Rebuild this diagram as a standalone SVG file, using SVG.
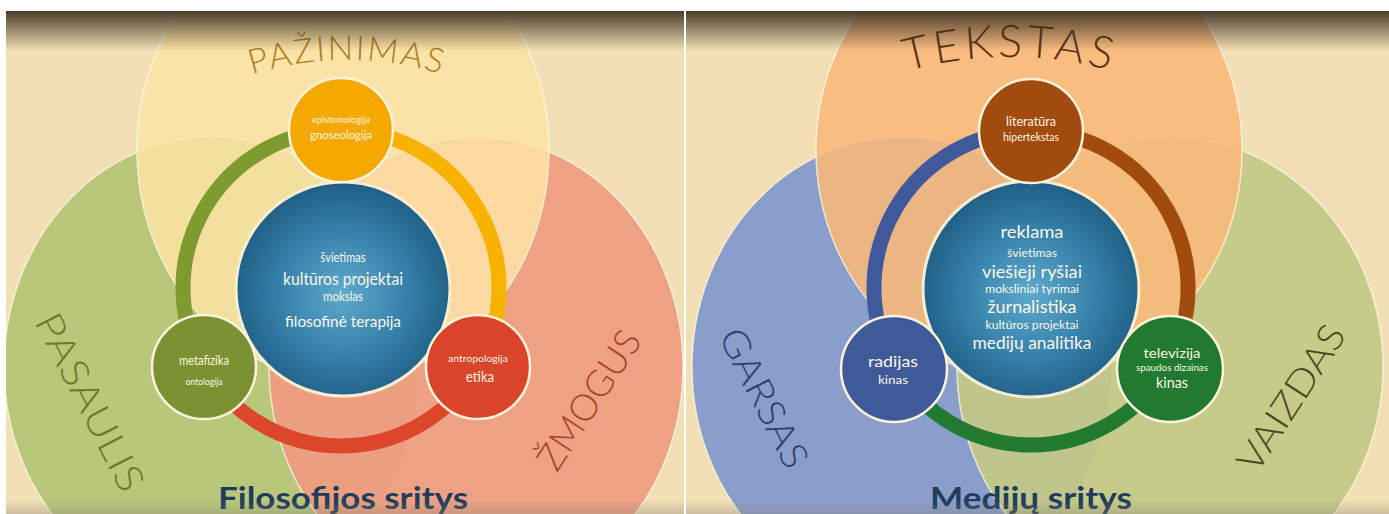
<svg xmlns="http://www.w3.org/2000/svg" width="1389" height="514" viewBox="0 0 1389 514">
<defs>
  <clipPath id="clipL"><rect x="6" y="11" width="678" height="503"/></clipPath>
  <clipPath id="clipR"><rect x="686" y="11" width="703" height="503"/></clipPath>
  <radialGradient id="coreGrad" cx="50%" cy="52%" r="55%">
    <stop offset="0" stop-color="#5eaacc"/>
    <stop offset="0.55" stop-color="#3580aa"/>
    <stop offset="1" stop-color="#1d5a7f"/>
  </radialGradient>
  <linearGradient id="topShade" x1="0" y1="0" x2="0" y2="1">
    <stop offset="0" stop-color="#3b2e21" stop-opacity="0.92"/>
    <stop offset="1" stop-color="#3b2e21" stop-opacity="0"/>
  </linearGradient>
  <linearGradient id="botShade" x1="0" y1="0" x2="0" y2="1">
    <stop offset="0" stop-color="#8a8478" stop-opacity="0"/>
    <stop offset="1" stop-color="#8a8478" stop-opacity="0.35"/>
  </linearGradient>
  <path id="arcL" d="M 27,380 A 320 320 0 0 1 667,380"/>
  <path id="arcR" d="M 630,437 A 380 380 0 0 1 1390,437"/>
  <style>
    .bg { fill: #f2dfb5; }
    .venn { stroke: #fff8e6; stroke-opacity: 0.75; stroke-width: 1.5; }
    .ring { fill: none; stroke-width: 15; }
    .node { stroke: #fbf3dc; stroke-width: 2.5; }
    .core { fill: url(#coreGrad); stroke: #f6eed4; stroke-width: 3; }
    .t { font-family: Lato, "Open Sans", "Liberation Sans", sans-serif; text-anchor: middle; fill: #fbf6e6; }
    .big { font-family: Lato, "Liberation Sans", sans-serif; font-weight: 300; text-anchor: middle; }
    .title { font-family: Lato, "Liberation Sans", sans-serif; font-weight: 700; fill: #1f3d5b; text-anchor: middle; font-size: 31px; }
  </style>
</defs>

<rect x="0" y="0" width="1389" height="514" fill="#ffffff"/>

<!-- LEFT PANEL -->
<g id="panel-left" clip-path="url(#clipL)">
  <rect class="bg" x="6" y="11" width="678" height="503"/>
  <g id="venn-pasaulis">
    <ellipse class="venn" cx="212" cy="367" rx="208" ry="230" fill="#b9c77b"/>
  </g>
  <g id="venn-zmogus">
    <ellipse class="venn" cx="476" cy="367" rx="207" ry="230" fill="#ef9b80" fill-opacity="0.92"/>
  </g>
  <g id="venn-pazinimas">
    <ellipse class="venn" cx="343" cy="150" rx="206" ry="230" fill="#fde3a5" fill-opacity="0.85"/>
  </g>
  <g id="label-pazinimas">
    <text class="big" font-size="34" fill="#b27a1e" letter-spacing="2"><textPath href="#arcL" startOffset="50%">PAŽINIMAS</textPath></text>
  </g>
  <g id="label-pasaulis">
    <text class="big" font-size="38" fill="#6b7a2b" transform="translate(90,402) rotate(63)" dy="0.35em" textLength="195" lengthAdjust="spacingAndGlyphs">PASAULIS</text>
  </g>
  <g id="label-zmogus">
    <text class="big" font-size="37" fill="#a8432b" transform="translate(589,400) rotate(-57)" dy="0.35em" textLength="158" lengthAdjust="spacingAndGlyphs">ŽMOGUS</text>
  </g>

  <g id="connectors-left">
    <path class="ring" stroke="#7f9a2f" d="M 341,130 A 158 158 0 0 0 204.2,367"/>
    <path class="ring" stroke="#f7b300" d="M 341,130 A 158 158 0 0 1 477.8,367"/>
    <path class="ring" stroke="#dc472c" d="M 204.2,367 A 158 158 0 0 0 477.8,367"/>
  </g>

  <g id="core-left">
    <circle class="core" cx="343" cy="289" r="107"/>
    <text class="t" x="343" y="262" font-size="13" textLength="45" lengthAdjust="spacingAndGlyphs">švietimas</text>
    <text class="t" x="343" y="285" font-size="17" textLength="120" lengthAdjust="spacingAndGlyphs">kultūros projektai</text>
    <text class="t" x="343" y="301" font-size="13.5" textLength="40" lengthAdjust="spacingAndGlyphs">mokslas</text>
    <text class="t" x="343" y="327" font-size="16" textLength="116" lengthAdjust="spacingAndGlyphs">filosofinė terapija</text>
  </g>
  <g id="node-pazinimas">
    <circle class="node" cx="341" cy="130" r="52" fill="#f5a900"/>
    <text class="t" x="341" y="123" font-size="9" textLength="58" lengthAdjust="spacingAndGlyphs">epistemologija</text>
    <text class="t" x="341" y="139" font-size="11" textLength="62" lengthAdjust="spacingAndGlyphs">gnoseologija</text>
  </g>
  <g id="node-pasaulis">
    <circle class="node" cx="204" cy="367" r="52" fill="#7c9131"/>
    <text class="t" x="204" y="365" font-size="14" textLength="50" lengthAdjust="spacingAndGlyphs">metafizika</text>
    <text class="t" x="204" y="385" font-size="10" textLength="37" lengthAdjust="spacingAndGlyphs">ontologija</text>
  </g>
  <g id="node-zmogus">
    <circle class="node" cx="478" cy="367" r="52" fill="#d9442a"/>
    <text class="t" x="478" y="362" font-size="9.5" textLength="60" lengthAdjust="spacingAndGlyphs">antropologija</text>
    <text class="t" x="480" y="382" font-size="15.5" textLength="28" lengthAdjust="spacingAndGlyphs">etika</text>
  </g>
  <g id="title-left">
    <text class="title" x="343" y="509" textLength="250" lengthAdjust="spacingAndGlyphs">Filosofijos sritys</text>
  </g>
  <rect x="6" y="11" width="678" height="40" fill="url(#topShade)"/>
  <rect x="6" y="500" width="678" height="14" fill="url(#botShade)"/>
</g>

<!-- RIGHT PANEL -->
<g id="panel-right" clip-path="url(#clipR)">
  <rect class="bg" x="686" y="11" width="703" height="503"/>
  <g id="venn-garsas">
    <ellipse class="venn" cx="902" cy="367" rx="210" ry="230" fill="#8a9ecb"/>
  </g>
  <g id="venn-vaizdas">
    <ellipse class="venn" cx="1170" cy="367" rx="213" ry="230" fill="#c3c985" fill-opacity="0.92"/>
  </g>
  <g id="venn-tekstas">
    <ellipse class="venn" cx="1029" cy="150" rx="213" ry="230" fill="#f9b87a" fill-opacity="0.88"/>
  </g>
  <g id="label-tekstas">
    <text class="big" font-size="45" fill="#5e3418" letter-spacing="4"><textPath href="#arcR" startOffset="50%">TEKSTAS</textPath></text>
  </g>
  <g id="label-garsas">
    <text class="big" font-size="37" fill="#2d3f6b" transform="translate(764,398) rotate(63)" dy="0.35em" textLength="152" lengthAdjust="spacingAndGlyphs">GARSAS</text>
  </g>
  <g id="label-vaizdas">
    <text class="big" font-size="37" fill="#4b4a1e" transform="translate(1291,398) rotate(-57)" dy="0.35em" textLength="167" lengthAdjust="spacingAndGlyphs">VAIZDAS</text>
  </g>

  <g id="connectors-right">
    <path class="ring" stroke="#40599a" d="M 1031,131 A 157 157 0 0 0 895,366.5"/>
    <path class="ring" stroke="#a24b0e" d="M 1031,131 A 157 157 0 0 1 1167,366.5"/>
    <path class="ring" stroke="#217a2f" d="M 895,366.5 A 157 157 0 0 0 1167,366.5"/>
  </g>

  <g id="core-right">
    <circle class="core" cx="1031" cy="289" r="108"/>
    <text class="t" x="1032" y="238" font-size="17.5" textLength="63" lengthAdjust="spacingAndGlyphs">reklama</text>
    <text class="t" x="1032" y="257" font-size="11.5" textLength="50" lengthAdjust="spacingAndGlyphs">švietimas</text>
    <text class="t" x="1032" y="277.5" font-size="17.5" textLength="100" lengthAdjust="spacingAndGlyphs">viešieji ryšiai</text>
    <text class="t" x="1032" y="293" font-size="11.5" textLength="94" lengthAdjust="spacingAndGlyphs">moksliniai tyrimai</text>
    <text class="t" x="1032" y="313" font-size="17.5" textLength="89" lengthAdjust="spacingAndGlyphs">žurnalistika</text>
    <text class="t" x="1032" y="328.5" font-size="11.5" textLength="93" lengthAdjust="spacingAndGlyphs">kultūros projektai</text>
    <text class="t" x="1032" y="348.5" font-size="17.5" textLength="119" lengthAdjust="spacingAndGlyphs">medijų analitika</text>
  </g>
  <g id="node-tekstas">
    <circle class="node" cx="1031" cy="131" r="52" fill="#a24b0e"/>
    <text class="t" x="1031" y="126" font-size="13" textLength="50" lengthAdjust="spacingAndGlyphs">literatūra</text>
    <text class="t" x="1031" y="141" font-size="11" textLength="56" lengthAdjust="spacingAndGlyphs">hipertekstas</text>
  </g>
  <g id="node-garsas">
    <circle class="node" cx="894" cy="369" r="53" fill="#3f5a99"/>
    <text class="t" x="893" y="367" font-size="15" textLength="50" lengthAdjust="spacingAndGlyphs">radijas</text>
    <text class="t" x="893" y="384" font-size="12" textLength="30" lengthAdjust="spacingAndGlyphs">kinas</text>
  </g>
  <g id="node-vaizdas">
    <circle class="node" cx="1170" cy="369" r="53" fill="#217a2f"/>
    <text class="t" x="1172" y="358" font-size="14" textLength="57" lengthAdjust="spacingAndGlyphs">televizija</text>
    <text class="t" x="1172" y="371" font-size="8.5" textLength="72" lengthAdjust="spacingAndGlyphs">spaudos dizainas</text>
    <text class="t" x="1172" y="388" font-size="14.5" textLength="32" lengthAdjust="spacingAndGlyphs">kinas</text>
  </g>
  <g id="title-right">
    <text class="title" x="1031" y="509" textLength="202" lengthAdjust="spacingAndGlyphs">Medijų sritys</text>
  </g>
  <rect x="686" y="11" width="703" height="40" fill="url(#topShade)"/>
  <rect x="686" y="500" width="703" height="14" fill="url(#botShade)"/>
</g>
</svg>
